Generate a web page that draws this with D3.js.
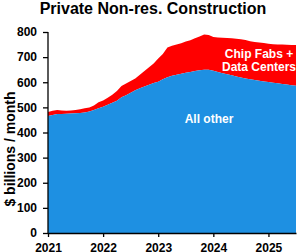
<!DOCTYPE html>
<html>
<head>
<meta charset="utf-8">
<script src="https://cdn.jsdelivr.net/npm/d3@7"></script>
<style>
  body { margin: 0; background: #fff; }
  text { font-family: "Liberation Sans", Arial, sans-serif; font-weight: bold; }
</style>
</head>
<body>
<div id="chart"></div>
<script>
// monthly, Jan 2021 .. Jul 2025, $ billions / month (SAAR)
var startYear = 2021;
var totalSpend = [482,487,490,488,487,488,490,493,497,500,507,520,
  527,538,550,565,585,595,605,615,630,645,660,675,
  695,712,738,745,750,755,762,767,775,782,790,788,
  780,778,777,776,775,773,771,768,763,760,758,756,
  753,751,750,750,749,748,748];
var allOther = [466,470,474,474,475,476,477,478,480,484,490,497,
  502,510,518,526,540,548,558,568,576,583,590,597,
  602,612,620,626,630,634,638,641,645,648,650,650,
  646,641,636,632,628,623,619,615,612,609,606,603,
  601,598,596,593,591,588,586];
var yearTicks = [2021,2022,2023,2024,2025];
var yTicks = [0,100,200,300,400,500,600,700,800];

var width = 300, height = 252;
var margin = {top: 32, right: 4, bottom: 19, left: 48};

var svg = d3.select('#chart')
  .append('svg')
    .attr('width', width)
    .attr('height', height);

var data = totalSpend.map(function(d, i) {
  return {t: startYear + i / 12, total: d, other: allOther[i]};
});

var x = d3.scaleLinear()
  .domain([2021, startYear + (totalSpend.length - 1) / 12])
  .range([margin.left, width - margin.right]);

var y = d3.scaleLinear()
  .domain([0, 800])
  .range([height - margin.bottom, margin.top]);

var chipArea = d3.area()
  .x(function(d) { return x(d.t); })
  .y0(function(d) { return y(d.other); })
  .y1(function(d) { return y(d.total); });

var otherArea = d3.area()
  .x(function(d) { return x(d.t); })
  .y0(y(0))
  .y1(function(d) { return y(d.other); });

svg.append('path')
  .datum(data)
  .attr('d', chipArea)
  .attr('fill', '#ff0000');

svg.append('path')
  .datum(data)
  .attr('d', otherArea)
  .attr('fill', '#1e90e2');

// axes
var yAxis = svg.append('g')
  .attr('transform', 'translate(' + margin.left + ',0)')
  .call(d3.axisLeft(y).tickValues(yTicks).tickSize(5).tickPadding(6));

var xAxis = svg.append('g')
  .attr('transform', 'translate(0,' + y(0) + ')')
  .call(d3.axisBottom(x).tickValues(yearTicks).tickFormat(d3.format('d')).tickSize(4).tickPadding(6).tickSizeOuter(0));

[yAxis, xAxis].forEach(function(g) {
  g.selectAll('path, line').attr('stroke', '#000').attr('stroke-width', 1.3);
  g.selectAll('text').attr('fill', '#000').style('font-size', '12px');
});
yAxis.select('.domain').attr('d', 'M0,' + y(800) + 'V' + y(0));

// title
svg.append('text')
  .attr('x', 153)
  .attr('y', 14)
  .attr('text-anchor', 'middle')
  .style('font-size', '16px')
  .attr('fill', '#000')
  .text('Private Non-res. Construction');

svg.append('text')
  .attr('transform', 'translate(15,149) rotate(-90)')
  .attr('text-anchor', 'middle')
  .style('font-size', '14px')
  .attr('fill', '#000')
  .text('$ billions / month');

// labels
var labels = [
  {text: 'Chip Fabs +', x: 259, y: 58},
  {text: 'Data Centers', x: 259, y: 71},
  {text: 'All other', x: 209, y: 123}
];
svg.selectAll('.lbl')
  .data(labels)
  .enter().append('text')
    .attr('class', 'lbl')
    .attr('x', function(d) { return d.x; })
    .attr('y', function(d) { return d.y; })
    .attr('text-anchor', 'middle')
    .attr('fill', '#fff')
    .style('font-size', '12px')
    .text(function(d) { return d.text; });
</script>
</body>
</html>
